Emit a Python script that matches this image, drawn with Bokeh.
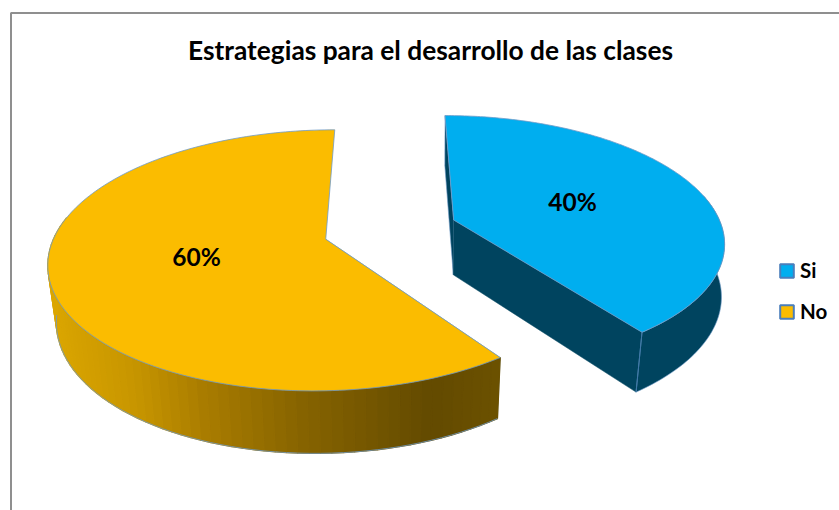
import numpy as np
from bokeh.plotting import figure
from bokeh.models import Range1d, Legend, LegendItem, ColumnDataSource
from bokeh.core.properties import value
from bokeh.embed import file_html
from bokeh.resources import INLINE

# ---- data ----
TITLE = "Estrategias para el desarrollo de las clases"
CATEGORIES = ["Si", "No"]
VALUES = [40, 60]
LABELS = ["40%", "60%"]
TOP_COLORS = ["#00AEEF", "#FBBC00"]

# ---- style / projection parameters ----
FONT = "Lato"
W, H = 839, 510
CX, CY, A, B, K = 390.0, 229.0, 269.0, 124.0, 0.16
EXPLODE = 0.25
BOTTOM_SCALE = 0.975
EDGE = "#6F9BC8"
BLUE_WALL = "#00445F"
YELLOW_STRIP = "#D9A500"
GRAD_X = [50, 130, 200, 300, 430, 500]
GRAD_R = [219, 200, 170, 135, 100, 108]
GRAD_G = [166, 150, 125, 100, 75, 82]
LABEL_POS = [(572, 201), (196, 256)]


def project(u, v):
    w = 1 - K * v
    return CX + A * u / w, CY + B * v / w


def top(t_deg, centre):
    t = np.radians(np.asarray(t_deg, dtype=float))
    return project(centre[0] + np.cos(t), centre[1] + np.sin(t))


def depth_y(y):
    return y + 50 + 0.045 * (y - 113)


def down(x, y):
    x, y = np.asarray(x, dtype=float), np.asarray(y, dtype=float)
    return CX + (x - CX) * BOTTOM_SCALE, depth_y(y)


def down_right(x, y):
    # right-hand slice: the walls lean inwards more the lower they sit
    x, y = np.asarray(x, dtype=float), np.asarray(y, dtype=float)
    lean = np.clip(0.009 + (y - 240) * 0.00016, 0.004, None)
    return x - (x - CX) * lean, depth_y(y)


p = figure(width=W, height=H, x_range=Range1d(0, W), y_range=Range1d(H, 0),
           toolbar_location=None, output_backend="svg", min_border=0,
           background_fill_color="white", border_fill_color="white")
p.axis.visible = False
p.grid.visible = False
p.outline_line_color = None

# chart-area frame (left and top edges only are in view)
p.line([10.5, 10.5, W], [H, 12.5, 12.5], line_color="#8F8F8F", line_width=2)

total = sum(VALUES)
start = -90.0
slices = []
for val in VALUES:
    sweep = 360.0 * val / total
    mid = np.radians(start + sweep / 2)
    centre = (EXPLODE * np.cos(mid), EXPLODE * np.sin(mid))
    slices.append((start, start + sweep, centre))
    start += sweep

# --- Si (blue) walls ---
s0, s1, c = slices[0]
ax, ay = project(*c)
x0, y0 = top(s0, c)
x1, y1 = top(s1, c)
bax, bay = down_right(ax, ay)
bx0, by0 = down_right(x0, y0)
bx1, by1 = down_right(x1, y1)
p.patch([x0, bx0, bax, ax], [y0, by0, bay, ay], fill_color=BLUE_WALL, line_color=EDGE, line_width=0.6)
p.patch([ax, bax, bx1, x1], [ay, bay, by1, y1], fill_color=BLUE_WALL, line_color=BLUE_WALL, line_width=0.5)
ts = np.linspace(-12, s1, 60)
xa, ya = top(ts, c)
xb, yb = down_right(xa, ya)
p.patch(np.r_[xa, xb[::-1]], np.r_[ya, yb[::-1]], fill_color=BLUE_WALL, line_color=EDGE, line_width=0.6)
p.line([x1, bx1], [y1, by1], line_color="#3F78A8", line_width=1)

# --- No (yellow) walls ---
s0y, s1y, cy = slices[1]
ax2, ay2 = project(*cy)
x0, y0 = top(s0y, cy)
bax2, bay2 = down(ax2, ay2)
bx0, by0 = down(x0, y0)
p.patch([x0, bx0, bax2, ax2], [y0, by0, bay2, ay2], fill_color=YELLOW_STRIP, line_color=EDGE, line_width=0.5)

ts_wall = np.linspace(s0y, 190, 67)
xa, ya = top(ts_wall, cy)
xb, yb = down(xa, ya)
qx, qy, qc = [], [], []
for i in range(len(ts_wall) - 1):
    qx.append([xa[i], xa[i + 1], xb[i + 1], xb[i]])
    qy.append([ya[i], ya[i + 1], yb[i + 1], yb[i]])
    xm = (xa[i] + xa[i + 1]) / 2
    r = int(np.interp(xm, GRAD_X, GRAD_R))
    g = int(np.interp(xm, GRAD_X, GRAD_G))
    qc.append(f"#{r:02x}{g:02x}00")
p.patches(qx, qy, fill_color=qc, line_color=qc, line_width=1.3)
visible = ts_wall <= 172
p.line(xb[visible], yb[visible], line_color=EDGE, line_width=0.8)

# --- top faces ---
for (a0, a1, cen), col in zip(slices, TOP_COLORS):
    tt = np.linspace(a0, a1, 180)
    tx, ty = top(tt, cen)
    qxx, qyy = project(*cen)
    p.patch(np.r_[qxx, tx, qxx], np.r_[qyy, ty, qyy], fill_color=col,
            line_color=EDGE, line_width=0.8)

# --- labels ---
for txt, (lx, ly) in zip(LABELS, LABEL_POS):
    p.text([lx], [ly], text=[txt], text_font=value(FONT), text_font_style="bold",
           text_font_size="24.5px", text_color="black", text_align="center", text_baseline="middle")

p.text([430], [49], text=[TITLE], text_font=value(FONT), text_font_style="bold",
       text_font_size="26.3px", text_color="black", text_align="center", text_baseline="middle")

# --- legend ---
items = []
for name, col in zip(CATEGORIES, TOP_COLORS):
    src = ColumnDataSource(dict(l=[np.nan], r=[np.nan], t=[np.nan], b=[np.nan]))
    q = p.quad(left="l", right="r", top="t", bottom="b", source=src,
               fill_color=col, line_color="#4A7EBB", line_width=2)
    items.append(LegendItem(label=name, renderers=[q]))
leg = Legend(items=items, location=(778, 187), orientation="vertical", spacing=17,
             glyph_width=17, glyph_height=17, label_standoff=5, padding=0, margin=0,
             border_line_color=None, background_fill_alpha=0,
             label_text_font=FONT, label_text_font_style="bold", label_text_font_size="20.5px",
             label_text_color="black", label_height=17)
p.add_layout(leg)

open("out.html", "w").write(file_html(p, INLINE))
